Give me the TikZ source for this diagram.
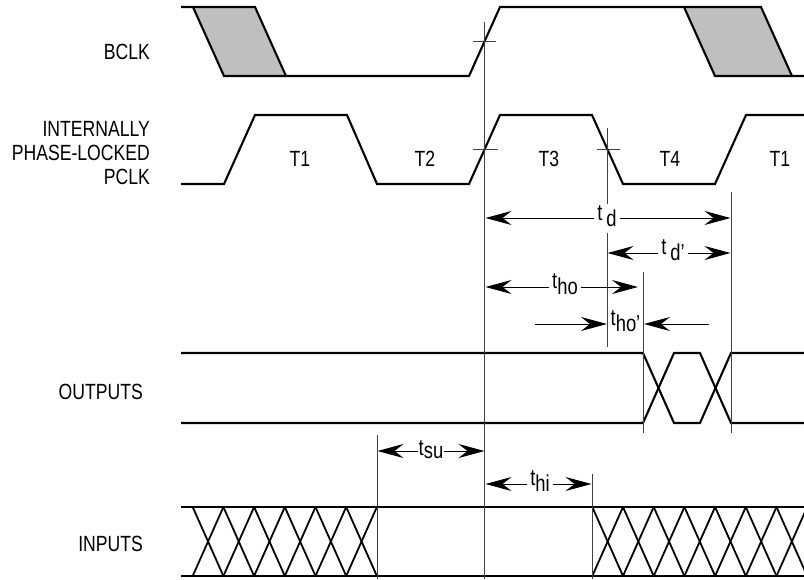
\documentclass[tikz,border=0pt]{standalone}
\usepackage{fontspec}
\setmainfont[FakeStretch=0.8]{Liberation Sans}
\usetikzlibrary{arrows.meta}
\tikzset{
 sig/.style={line width=2.1pt,line join=miter,line cap=butt},
 cross/.style={line width=1.8pt},
 tick/.style={line width=1pt,draw=black!75},
 headR/.tip={Stealth[length=26pt,width=14pt,inset=9pt]},
 dim/.style={line width=1pt,headR-headR},
 dimend/.style={line width=1pt,-headR},
 lab/.style={inner sep=0pt,font=\fontsize{22}{24}\selectfont},
 sublab/.style={inner sep=0pt,font=\fontsize{23}{23}\selectfont,fill=white,inner xsep=3pt},
 subnofill/.style={inner sep=0pt,font=\fontsize{23}{23}\selectfont}
}
\newcommand{\sbd}[1]{\raisebox{-6pt}{#1}}
\begin{document}
\begin{tikzpicture}[x=1pt,y=-1pt]
\useasboundingbox (0,0) rectangle (804,579);
% shaded
\fill[black!25] (193,7) -- (255,7) -- (286,76) -- (224,76) -- cycle;
\fill[black!25] (684,7) -- (761,7) -- (792,76) -- (715,76) -- cycle;
% BCLK
\draw[sig] (181,7) -- (255,7) -- (286,76) -- (469,76) -- (500,7) -- (761,7) -- (792,76) -- (804,76);
\draw[sig] (193,7) -- (224,76) -- (286,76);
\draw[sig] (684,7) -- (715,76) -- (792,76);
% PCLK
\draw[sig] (181,184) -- (224,184) -- (255,115) -- (347,115) -- (377,184) -- (469,184) -- (500,115) -- (592,115) -- (623,184) -- (715,184) -- (746,115) -- (804,115);
% OUTPUTS
\draw[sig] (181,353) -- (643,353) -- (674,423) -- (700,423) -- (731,353) -- (804,353);
\draw[sig] (181,423) -- (643,423) -- (674,353) -- (700,353) -- (731,423) -- (804,423);
% INPUTS
\draw[sig] (181,507) -- (804,507);
\draw[sig] (181,576) -- (804,576);
\foreach \s in {0,1,2,3,4,5}{
 \draw[cross] ({192.7+\s*30.7},507) -- ({223.4+\s*30.7},576);
 \draw[cross] ({192.7+\s*30.7},576) -- ({223.4+\s*30.7},507);
}
\foreach \s in {0,1,2,3,4,5,6}{
 \draw[cross] ({592.3+\s*30.7},507) -- ({623+\s*30.7},576);
 \draw[cross] ({592.3+\s*30.7},576) -- ({623+\s*30.7},507);
}
% guide lines
\draw[tick] (484.7,22) -- (484.7,579);
\draw[tick] (607,128) -- (607,204);
\draw[tick] (607,233) -- (607,347);
\draw[tick] (643,272) -- (643,433);
\draw[tick] (731,192) -- (731,433);
\draw[tick] (377,435) -- (377,579);
\draw[tick] (592,474) -- (592,579);
% ticks
\draw[tick] (473,41) -- (496,41);
\draw[tick] (473,149) -- (498,149);
\draw[tick] (597,149) -- (620,149);
% labels
\node[lab,anchor=base east] (bclk) at (150,59.5) {BCLK};
\node[lab,anchor=base east] (pcl1) at (150,136) {INTERNALLY};
\node[lab,anchor=base east] (pcl2) at (150,160) {PHASE-LOCKED};
\node[lab,anchor=base east] (pcl3) at (150,184) {PCLK};
\node[lab,anchor=base east] (outputs) at (143,399) {OUTPUTS};
\node[lab,anchor=base east] (inputs) at (143,551) {INPUTS};
\node[lab,anchor=base] (t1a) at (300,166) {T1};
\node[lab,anchor=base] (t2) at (425,166) {T2};
\node[lab,anchor=base] (t3) at (549,166) {T3};
\node[lab,anchor=base] (t4) at (670,166) {T4};
\node[lab,anchor=base] (t1b) at (780,166) {T1};
% dims
\coordinate (a1) at (485.5,218); \coordinate (a2) at (730.5,218);
\draw[dim] (a1) -- (a2);
\node[sublab,anchor=base] (td) at (607,220) {t\,\sbd{d}};
\coordinate (b1) at (607.5,253); \coordinate (b2) at (730.5,253);
\draw[dim] (b1) -- (b2);
\node[sublab,anchor=base] (tdp) at (673,254) {t\,\sbd{d'}};
\coordinate (c1) at (485.5,287); \coordinate (c2) at (638,287);
\draw[dim] (c1) -- (c2);
\node[sublab,anchor=base] (tho) at (565,288) {t\sbd{ho}};
\coordinate (d1) at (535,324); \coordinate (d2) at (607,324);
\coordinate (e1) at (709,324); \coordinate (e2) at (644,324);
\draw[dimend] (d1) -- (d2);
\draw[dimend] (e1) -- (e2);
\node[subnofill,anchor=base] (thop) at (625.5,325) {t\sbd{ho'}};
\coordinate (f1) at (377.5,451); \coordinate (f2) at (484.5,451);
\draw[dim] (f1) -- (f2);
\node[sublab,anchor=base,inner xsep=1pt] (tsu) at (431,455) {t\raisebox{-3pt}{su}};
\coordinate (g1) at (485.5,484); \coordinate (g2) at (591.5,484);
\draw[dim] (g1) -- (g2);
\node[sublab,anchor=base] (thi) at (540,485) {t\sbd{hi}};
\end{tikzpicture}
\end{document}
